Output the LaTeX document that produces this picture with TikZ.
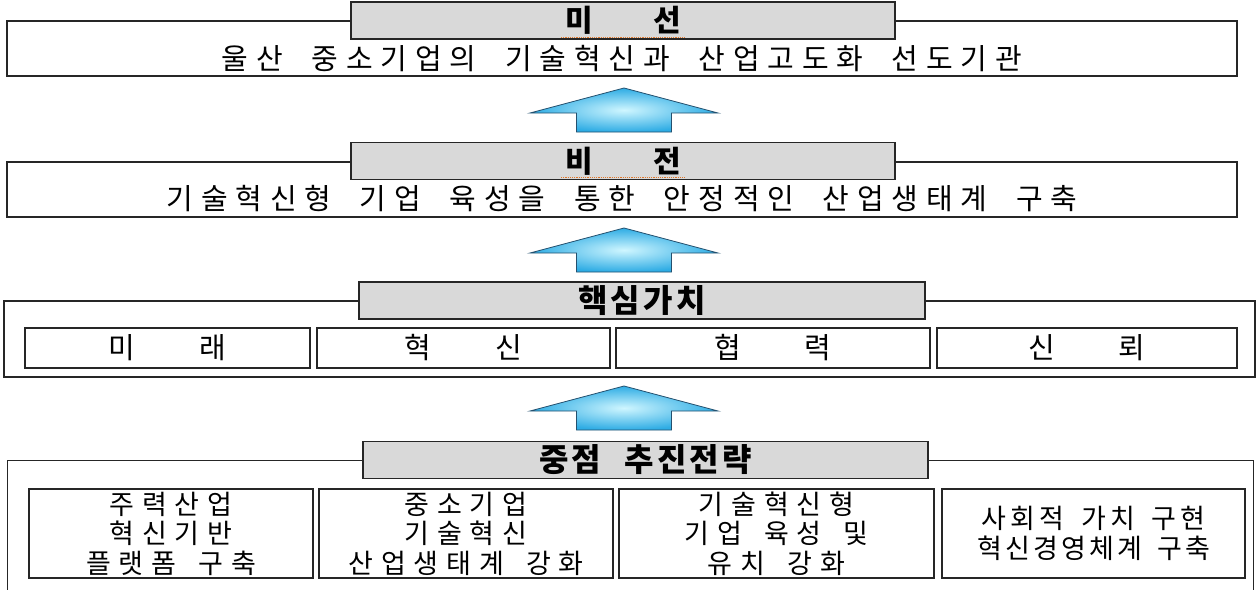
\documentclass[tikz,border=0pt]{standalone}
\usepackage{fontspec}
\setmainfont{Noto Sans CJK KR}
\newfontfamily\krwide{Noto Sans CJK KR}[LetterSpace=27,WordSpace=2]
\newfontfamily\krcell{Noto Sans CJK KR}[LetterSpace=29,WordSpace=1.6]
\newfontfamily\krhead{Noto Sans CJK KR}[LetterSpace=10,WordSpace=2.2]
\usetikzlibrary{calc}

\definecolor{titlegray}{HTML}{D9D9D9}
\definecolor{arrowin}{HTML}{CFF6FF}
\definecolor{arrowout}{HTML}{2EACE4}
\definecolor{arrowedge}{HTML}{24506E}
\definecolor{spellred}{HTML}{E0782C}

\begin{document}
\begin{tikzpicture}[x=1pt, y=-1pt,
  frame/.style={draw=black!85, line width=1.3pt, fill=white, inner sep=0pt},
  titlebox/.style={frame, fill=titlegray, minimum height=37pt, font=\krhead\fontsize{30}{34}\selectfont\bfseries},
  bodytext/.style={inner sep=0pt, font=\krwide\fontsize{29}{34}\selectfont},
  valuebox/.style={frame, line width=1.1pt, minimum height=40pt, font=\fontsize{29}{32}\selectfont},
  stratbox/.style={frame, line width=1.1pt, minimum height=89pt, align=center, font=\krcell\fontsize{27}{29.5}\selectfont},
  blockarrow/.style={draw=arrowedge, line width=0.8pt, inner color=arrowin, outer color=arrowout},
  spellmark/.style={draw=spellred, line width=1.2pt, densely dotted}]
\useasboundingbox (0,0) rectangle (1258,589);
\clip (0,0) rectangle (1258,589);

% mission
\node[frame, minimum width=1230pt, minimum height=55pt] (misbox) at (622,48.5) {};
\node[titlebox, minimum width=544pt] (mistitle) at (623,20.5) {미\hspace{60pt}선};
\node[bodytext] (mistext) at (622,59) {울산 중소기업의 기술혁신과 산업고도화 선도기관};
\draw[spellmark] ($(mistitle.south)+(-62,-2.5)$) -- ++(124,0);

% vision
\node[frame, minimum width=1230pt, minimum height=55pt] (visbox) at (622,189.5) {};
\node[titlebox, minimum width=544pt] (vistitle) at (623,161) {비\hspace{60pt}전};
\node[bodytext] (vistext) at (622,199) {기술혁신형 기업 육성을 통한 안정적인 산업생태계 구축};
\draw[spellmark] ($(vistitle.south)+(-62,-2.5)$) -- ++(124,0);

% core values
\node[frame, minimum width=1251pt, minimum height=76pt] (corebox) at (629.5,339) {};
\node[titlebox, minimum width=566pt, font=\krhead\fontsize{32}{34}\selectfont\bfseries] (coretitle) at (642,300.5) {핵심가치};
\node[valuebox, minimum width=285pt] (core1) at (167.5,348) {미\hspace{64pt}래};
\node[valuebox, minimum width=293pt] (core2) at (463.5,348) {혁\hspace{64pt}신};
\node[valuebox, minimum width=314pt] (core3) at (773,348) {협\hspace{64pt}력};
\node[valuebox, minimum width=300pt] (core4) at (1087,348) {신\hspace{64pt}뢰};

% strategies
\node[frame, minimum width=1246pt, minimum height=160pt, anchor=north west] (stratframe) at (7,460) {};
\node[titlebox, minimum width=565pt, font=\krhead\fontsize{32}{34}\selectfont\bfseries] (strattitle) at (645.5,460) {중점 추진전략};
\node[stratbox, minimum width=284pt] (strat1) at (171,533.5) {주력산업\\혁신기반\\플랫폼 구축};
\node[stratbox, minimum width=294pt] (strat2) at (466,533.5) {중소기업\\기술혁신\\산업생태계 강화};
\node[stratbox, minimum width=315pt] (strat3) at (776.5,533.5) {기술혁신형\\기업 육성 및\\유치 강화};
\node[stratbox, minimum width=303pt] (strat4) at (1093.5,533.5) {\addfontfeature{LetterSpace=16}사회적 가치 구현\\\addfontfeature{LetterSpace=12}혁신경영체계 구축};

% arrows
\foreach \ay in {88,228,386}
  \shade[blockarrow] (624,\ay) -- ++(94,25) -- ++(-46.5,0) -- ++(0,19) -- ++(-95,0) -- ++(0,-19) -- ++(-46.5,0) -- cycle;
\end{tikzpicture}
\end{document}
